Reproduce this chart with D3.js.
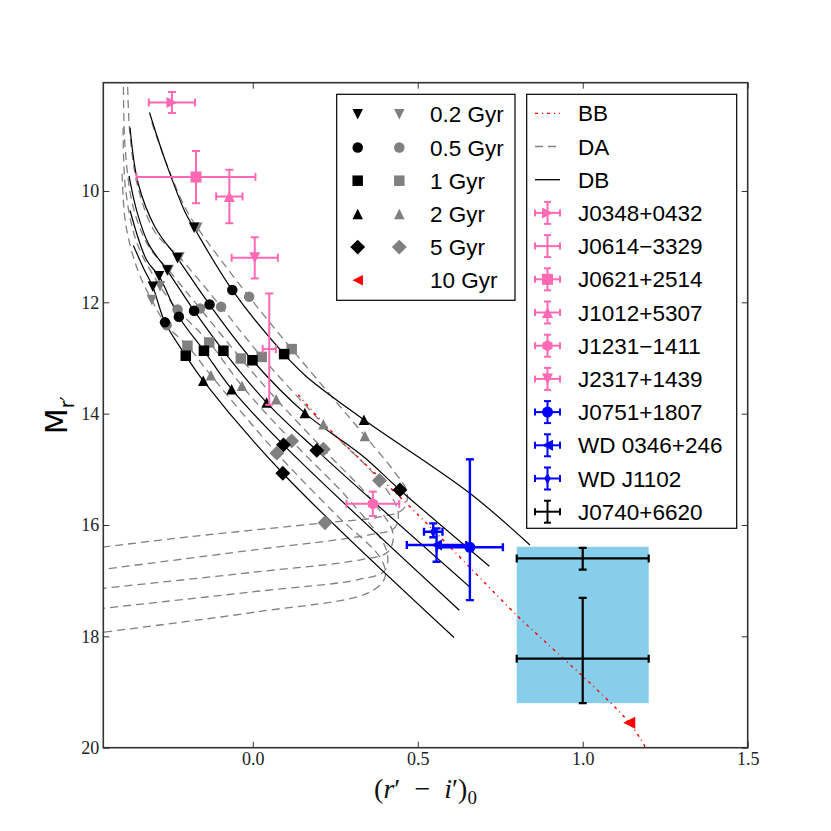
<!DOCTYPE html>
<html>
<head>
<meta charset="utf-8">
<script src="https://cdn.jsdelivr.net/npm/d3@7"></script>
<style>
    body { margin: 0; background: #fff; }
    svg { display: block; }
</style>
</head>
<body>
<script>
// ---- data ----
const ageLabels = ["0.2 Gyr", "0.5 Gyr", "1 Gyr", "2 Gyr", "5 Gyr", "10 Gyr"];
const ageShapes = ["v", "o", "s", "^", "D", "<"];

// DB cooling tracks (solid black), one per mass
const dbTrackA = [[-0.313, 8.59], [-0.265, 9.46], [-0.205, 10.38], [-0.178, 10.66], [-0.062, 11.78], [0.095, 12.93], [0.164, 13.34], [0.337, 14.11], [0.658, 15.43], [0.840, 16.36]];
const dbTrackB = [[-0.372, 8.86], [-0.347, 9.87], [-0.296, 10.65], [-0.228, 11.21], [-0.131, 12.04], [-0.001, 13.04], [0.158, 13.99], [0.335, 14.77], [0.446, 15.37], [0.717, 16.74]];
const dbTrackC = [[-0.375, 9.73], [-0.352, 10.35], [-0.316, 10.95], [-0.259, 11.43], [-0.178, 12.15], [-0.089, 12.87], [0.042, 13.80], [0.194, 14.66], [0.659, 17.12]];
const dbTrackD = [[-0.372, 10.35], [-0.321, 11.25], [-0.284, 11.53], [-0.224, 12.26], [-0.148, 12.87], [-0.064, 13.56], [0.093, 14.56], [0.626, 17.53]];
const dbTrackE = [[-0.362, 10.98], [-0.330, 11.40], [-0.303, 11.72], [-0.266, 12.36], [-0.203, 12.96], [-0.150, 13.41], [0.091, 15.07], [0.610, 18.02]];

// DA cooling tracks (grey dashed), with the hook at the faint end
const daTrackA = [[-0.306, 8.77], [-0.262, 9.50], [-0.205, 10.30], [-0.168, 10.66], [-0.011, 11.90], [0.118, 12.84], [0.340, 14.40], [0.430, 15.05], [0.468, 15.42], [0.455, 15.72], [0.380, 15.86], [0.219, 15.96], [-0.190, 16.21], [-0.460, 16.40]];
const daTrackB = [[-0.380, 7.90], [-0.372, 9.00], [-0.345, 10.00], [-0.295, 10.75], [-0.222, 11.19], [-0.096, 12.08], [0.027, 12.98], [0.214, 14.19], [0.384, 15.20], [0.440, 15.75], [0.430, 16.05], [0.360, 16.17], [0.000, 16.45], [-0.460, 16.80]];
const daTrackC = [[-0.392, 7.90], [-0.387, 9.20], [-0.362, 10.30], [-0.315, 11.00], [-0.255, 11.42], [-0.160, 12.11], [-0.036, 13.01], [0.071, 13.74], [0.214, 14.64], [0.360, 15.55], [0.425, 16.15], [0.410, 16.48], [0.330, 16.62], [0.000, 16.85], [-0.460, 17.14]];
const daTrackD = [[-0.393, 8.86], [-0.385, 10.00], [-0.350, 10.95], [-0.281, 11.71], [-0.228, 12.13], [-0.132, 12.72], [-0.033, 13.50], [0.118, 14.49], [0.300, 15.60], [0.405, 16.45], [0.400, 16.82], [0.320, 16.98], [0.000, 17.20], [-0.460, 17.50]];
const daTrackE = [[-0.396, 9.69], [-0.385, 10.60], [-0.350, 11.40], [-0.306, 11.96], [-0.261, 12.41], [-0.198, 12.78], [-0.127, 13.31], [0.073, 14.71], [0.250, 15.80], [0.390, 16.62], [0.400, 16.95], [0.350, 17.22], [0.012, 17.56], [-0.460, 17.93]];

// isochrone points on the tracks
const dbAge02 = [[-0.178, 10.66], [-0.228, 11.21], [-0.259, 11.43], [-0.284, 11.53], [-0.303, 11.72]];
const dbAge05 = [[-0.062, 11.78], [-0.131, 12.04], [-0.178, 12.15], [-0.224, 12.26], [-0.266, 12.36]];
const dbAge1 = [[0.095, 12.93], [-0.001, 13.04], [-0.089, 12.87], [-0.148, 12.87], [-0.203, 12.96]];
const dbAge2 = [[0.337, 14.11], [0.158, 13.99], [0.042, 13.80], [-0.064, 13.56], [-0.150, 13.41]];
const dbAge5 = [[0.446, 15.37], [0.194, 14.66], [0.093, 14.56], [0.091, 15.07]];

const daAge02 = [[-0.168, 10.66], [-0.222, 11.19], [-0.255, 11.42], [-0.281, 11.71], [-0.306, 11.96]];
const daAge05 = [[-0.011, 11.90], [-0.096, 12.08], [-0.160, 12.11], [-0.228, 12.13], [-0.261, 12.41]];
const daAge1 = [[0.118, 12.84], [0.027, 12.98], [-0.036, 13.01], [-0.132, 12.72], [-0.198, 12.78]];
const daAge2 = [[0.340, 14.40], [0.214, 14.19], [0.071, 13.74], [-0.033, 13.50], [-0.127, 13.31]];
const daAge5 = [[0.219, 15.96], [0.384, 15.20], [0.214, 14.64], [0.118, 14.49], [0.073, 14.71]];

// blackbody track and its 10 Gyr point
const bbX = [0.138, 0.224, 0.500, 0.805, 0.861, 1.141, 1.195];
const bbY = [13.66, 14.23, 15.81, 17.65, 17.96, 19.55, 20.05];
const bb10Gyr = [1.141, 19.55];

// observed objects
const pinkNames = ["J0348+0432", "J0614\u22123329", "J0621+2514", "J1012+5307", "J1231\u22121411", "J2317+1439"];
const pinkShapes = [">", "none", "s", "^", "h", "v"];
const pinkX = [-0.245, 0.050, -0.172, -0.071, 0.364, 0.006];
const pinkY = [8.41, 12.84, 9.75, 10.10, 15.62, 11.20];
const pinkXErr = [0.07, 0.02, 0.18, 0.04, 0.08, 0.07];
const pinkYErrUp = [0.19, 1.0, 0.47, 0.48, 0.22, 0.37];
const pinkYErrDown = [0.19, 1.0, 0.47, 0.48, 0.22, 0.37];

const blueNames = ["J0751+1807", "WD 0346+246", "WD J1102"];
const blueShapes = ["o", "<", "d"];
const blueX = [0.658, 0.557, 0.547];
const blueY = [16.40, 16.36, 16.12];
const blueXErr = [0.10, 0.09, 0.028];
const blueYErrUp = [1.58, 0.30, 0.15];
const blueYErrDown = [0.95, 0.30, 0.10];

const j0740Name = "J0740+6620";
const j0740X = [1.0, 1.0];
const j0740Y = [16.60, 18.40];
const j0740XErr = [0.2, 0.2];
const j0740YErrUp = [0.19, 1.09];
const j0740YErrDown = [0.20, 0.80];
const j0740Box = { x0: 0.8, x1: 1.2, y0: 16.39, y1: 19.2 };

const xTicks = [0.0, 0.5, 1.0, 1.5];
const yTicks = [10, 12, 14, 16, 18, 20];

// ---- colours ----
const PINK = "#ff69b4";
const BLUE = "#0000ff";
const GREY = "#808080";
const SKY = "#87ceeb";

// ---- layout ----
const width = 831, height = 831;
const plot = { left: 103.3, right: 747.7, top: 82.7, bottom: 747.7 };

const x = d3.scaleLinear().domain([-0.453, 1.5]).range([plot.left, plot.right]);
const y = d3.scaleLinear().domain([8.055, 20]).range([plot.top, plot.bottom]);

const svg = d3.select("body").append("svg").attr("width", width).attr("height", height);

svg.append("defs").append("clipPath").attr("id", "clip")
    .append("rect")
    .attr("x", plot.left).attr("y", plot.top)
    .attr("width", plot.right - plot.left).attr("height", plot.bottom - plot.top);

const g = svg.append("g").attr("clip-path", "url(#clip)");

// marker shapes in the style of matplotlib
function markerPath(shape, s) {
    const h = s / 2;
    switch (shape) {
        case "o": return d3.symbol(d3.symbolCircle, Math.PI * h * h)();
        case "^": return `M0,${-h}L${h},${h}L${-h},${h}Z`;
        case "v": return `M0,${h}L${h},${-h}L${-h},${-h}Z`;
        case "<": return `M${-h},0L${h},${-h}L${h},${h}Z`;
        case ">": return `M${h},0L${-h},${-h}L${-h},${h}Z`;
        case "s": return `M${-h},${-h}H${h}V${h}H${-h}Z`;
        case "D": {
            const d = h * Math.SQRT2;
            return `M0,${-d}L${d},0L0,${d}L${-d},0Z`;
        }
        case "d": return `M0,${-h}L${h * 0.6},0L0,${h}L${-h * 0.6},0Z`;
        case "h": {
            const pts = d3.range(6).map(i => {
                const a = Math.PI / 2 + i * Math.PI / 3;
                return [h * 1.05 * Math.cos(a), h * 1.05 * Math.sin(a)];
            });
            return "M" + pts.map(p => p.join(",")).join("L") + "Z";
        }
        default: return "";
    }
}

const line = d3.line().x(d => x(d[0])).y(d => y(d[1])).curve(d3.curveCatmullRom.alpha(0.5));

// J0740+6620 allowed region
g.append("rect")
    .attr("x", x(j0740Box.x0)).attr("y", y(j0740Box.y0))
    .attr("width", x(j0740Box.x1) - x(j0740Box.x0))
    .attr("height", y(j0740Box.y1) - y(j0740Box.y0))
    .attr("fill", SKY);

// DA tracks
g.selectAll(".da")
    .data([daTrackA, daTrackB, daTrackC, daTrackD, daTrackE])
    .enter().append("path")
    .attr("class", "da")
    .attr("d", line)
    .attr("fill", "none")
    .attr("stroke", GREY)
    .attr("stroke-width", 1.3)
    .attr("stroke-dasharray", "8,5");

// DB tracks
g.selectAll(".db")
    .data([dbTrackA, dbTrackB, dbTrackC, dbTrackD, dbTrackE])
    .enter().append("path")
    .attr("class", "db")
    .attr("d", line)
    .attr("fill", "none")
    .attr("stroke", "#000")
    .attr("stroke-width", 1.2);

// blackbody
const bbPoints = bbX.map((v, i) => [v, bbY[i]]);
g.append("path")
    .datum(bbPoints)
    .attr("d", line)
    .attr("fill", "none")
    .attr("stroke", "#ff0000")
    .attr("stroke-width", 1.4)
    .attr("stroke-dasharray", "3,4,1,4");

// isochrone markers: grey (DA) below, black (DB) on top
function drawAgeMarkers(sets, color) {
    sets.forEach((pts, i) => {
        g.selectAll(null)
            .data(pts)
            .enter().append("path")
            .attr("d", markerPath(ageShapes[i], 10.5))
            .attr("transform", d => `translate(${x(d[0])},${y(d[1])})`)
            .attr("fill", color);
    });
}
drawAgeMarkers([daAge02, daAge05, daAge1, daAge2, daAge5], GREY);
drawAgeMarkers([dbAge02, dbAge05, dbAge1, dbAge2, dbAge5], "#000");

g.append("path")
    .attr("d", markerPath("<", 12))
    .attr("transform", `translate(${x(bb10Gyr[0])},${y(bb10Gyr[1])})`)
    .attr("fill", "#ff0000");

// error bars
function drawErrorBars(rows, color, lw, cap, size) {
    rows.forEach(r => {
        const eg = g.append("g");
        const cx = x(r.x), cy = y(r.y);
        const xl = x(r.x - r.xe), xr = x(r.x + r.xe);
        const yt = y(r.y - r.up), yb = y(r.y + r.down);
        eg.append("line").attr("x1", xl).attr("x2", xr).attr("y1", cy).attr("y2", cy);
        eg.append("line").attr("x1", cx).attr("x2", cx).attr("y1", yt).attr("y2", yb);
        eg.append("line").attr("x1", xl).attr("x2", xl).attr("y1", cy - cap).attr("y2", cy + cap);
        eg.append("line").attr("x1", xr).attr("x2", xr).attr("y1", cy - cap).attr("y2", cy + cap);
        eg.append("line").attr("x1", cx - cap).attr("x2", cx + cap).attr("y1", yt).attr("y2", yt);
        eg.append("line").attr("x1", cx - cap).attr("x2", cx + cap).attr("y1", yb).attr("y2", yb);
        eg.selectAll("line").attr("stroke", color).attr("stroke-width", lw);
        if (r.shape !== "none") {
            eg.append("path")
                .attr("d", markerPath(r.shape, size))
                .attr("transform", `translate(${cx},${cy})`)
                .attr("fill", color);
        }
    });
}

drawErrorBars(j0740X.map((v, i) => ({
    x: v, y: j0740Y[i], xe: j0740XErr[i], up: j0740YErrUp[i], down: j0740YErrDown[i], shape: "none"
})), "#000", 2.2, 4, 0);

drawErrorBars(pinkX.map((v, i) => ({
    x: v, y: pinkY[i], xe: pinkXErr[i], up: pinkYErrUp[i], down: pinkYErrDown[i], shape: pinkShapes[i]
})), PINK, 2, 4, 11);

drawErrorBars(blueX.map((v, i) => ({
    x: v, y: blueY[i], xe: blueXErr[i], up: blueYErrUp[i], down: blueYErrDown[i], shape: blueShapes[i]
})), BLUE, 2.4, 4, 11);

// ---- axes ----
const tickFont = "'Liberation Serif', 'DejaVu Serif', serif";

function styleAxis(sel) {
    sel.select(".domain").remove();
    sel.selectAll(".tick line").attr("stroke", "#333").attr("stroke-width", 1);
    sel.selectAll(".tick text").attr("font-family", tickFont).attr("font-size", 18).attr("fill", "#222");
}

svg.append("g").attr("transform", `translate(0,${plot.bottom})`)
    .call(d3.axisBottom(x).tickValues(xTicks).tickFormat(d3.format(".1f")).tickSize(-6).tickPadding(5))
    .call(styleAxis);
svg.append("g").attr("transform", `translate(0,${plot.top})`)
    .call(d3.axisTop(x).tickValues(xTicks).tickFormat("").tickSize(-6))
    .call(styleAxis);
svg.append("g").attr("transform", `translate(${plot.left},0)`)
    .call(d3.axisLeft(y).tickValues(yTicks).tickFormat(d3.format("d")).tickSize(-6).tickPadding(4))
    .call(styleAxis);
svg.append("g").attr("transform", `translate(${plot.right},0)`)
    .call(d3.axisRight(y).tickValues(yTicks).tickFormat("").tickSize(-6))
    .call(styleAxis);

svg.append("rect")
    .attr("x", plot.left).attr("y", plot.top)
    .attr("width", plot.right - plot.left).attr("height", plot.bottom - plot.top)
    .attr("fill", "none").attr("stroke", "#333").attr("stroke-width", 1.6);

// x label: (r' - i')_0
const xl = svg.append("text")
    .attr("x", (plot.left + plot.right) / 2)
    .attr("y", 798)
    .attr("text-anchor", "middle")
    .attr("font-family", tickFont)
    .attr("font-size", 28)
    .attr("fill", "#111");
xl.append("tspan").text("(");
xl.append("tspan").attr("font-style", "italic").text("r");
xl.append("tspan").text("\u2032\u2002\u2212\u2002");
xl.append("tspan").attr("font-style", "italic").text("i");
xl.append("tspan").text("\u2032)");
xl.append("tspan").attr("font-size", 19).attr("dy", 6).text("0");

// y label: M_r'
const yl = svg.append("text")
    .attr("transform", `translate(67,${(plot.top + plot.bottom) / 2}) rotate(-90)`)
    .attr("text-anchor", "middle")
    .attr("font-family", "'DejaVu Sans', sans-serif")
    .attr("font-size", 30)
    .attr("fill", "#000");
yl.append("tspan").text("M");
yl.append("tspan").attr("font-size", 19).attr("dy", 7).text("r\u2032");

// ---- legends ----
const legendFont = "'Liberation Sans', Arial, sans-serif";
const legendSize = 22.5;
const rowH = 33.2;

// ages legend
const leg1 = svg.append("g");
leg1.append("rect")
    .attr("x", 336.7).attr("y", 94.3).attr("width", 178.3).attr("height", 206)
    .attr("fill", "#fff").attr("stroke", "#000").attr("stroke-width", 1.2);
ageLabels.forEach((lab, i) => {
    const ry = 114.3 + i * rowH;
    leg1.append("path")
        .attr("d", markerPath(ageShapes[i], 10.5))
        .attr("transform", `translate(357.7,${ry})`)
        .attr("fill", i === 5 ? "#ff0000" : "#000");
    if (i < 5) {
        leg1.append("path")
            .attr("d", markerPath(ageShapes[i], 10.5))
            .attr("transform", `translate(399.3,${ry})`)
            .attr("fill", GREY);
    }
    leg1.append("text")
        .attr("x", 430).attr("y", ry).attr("dy", "0.36em")
        .attr("font-family", legendFont).attr("font-size", legendSize)
        .text(lab);
});

// tracks and objects legend
const leg2 = svg.append("g");
leg2.append("rect")
    .attr("x", 526.7).attr("y", 94.3).attr("width", 210).attr("height", 434)
    .attr("fill", "#fff").attr("stroke", "#000").attr("stroke-width", 1.2);

const trackEntries = [
    { label: "BB", color: "#ff0000", dash: "3,4,1,4" },
    { label: "DA", color: GREY, dash: "8,5" },
    { label: "DB", color: "#000", dash: null }
];
const objectEntries = pinkNames.map((n, i) => ({ label: n, color: PINK, shape: pinkShapes[i] }))
    .concat(blueNames.map((n, i) => ({ label: n, color: BLUE, shape: blueShapes[i] })))
    .concat([{ label: j0740Name, color: "#000", shape: "none" }]);

const hx0 = 535, hx1 = 560, hxc = 547.5, tx = 578;
trackEntries.forEach((e, i) => {
    const ry = 113.3 + i * rowH;
    leg2.append("line")
        .attr("x1", hx0).attr("x2", hx1).attr("y1", ry).attr("y2", ry)
        .attr("stroke", e.color).attr("stroke-width", 1.3)
        .attr("stroke-dasharray", e.dash);
    leg2.append("text")
        .attr("x", tx).attr("y", ry).attr("dy", "0.36em")
        .attr("font-family", legendFont).attr("font-size", legendSize)
        .text(e.label);
});
objectEntries.forEach((e, j) => {
    const ry = 113.3 + (j + 3) * rowH;
    const hg = leg2.append("g");
    hg.append("line").attr("x1", hx0).attr("x2", hx1).attr("y1", ry).attr("y2", ry);
    hg.append("line").attr("x1", hxc).attr("x2", hxc).attr("y1", ry - 11).attr("y2", ry + 11);
    hg.append("line").attr("x1", hx0).attr("x2", hx0).attr("y1", ry - 3.5).attr("y2", ry + 3.5);
    hg.append("line").attr("x1", hx1).attr("x2", hx1).attr("y1", ry - 3.5).attr("y2", ry + 3.5);
    hg.append("line").attr("x1", hxc - 3.5).attr("x2", hxc + 3.5).attr("y1", ry - 11).attr("y2", ry - 11);
    hg.append("line").attr("x1", hxc - 3.5).attr("x2", hxc + 3.5).attr("y1", ry + 11).attr("y2", ry + 11);
    hg.selectAll("line").attr("stroke", e.color).attr("stroke-width", 2);
    if (e.shape !== "none") {
        hg.append("path")
            .attr("d", markerPath(e.shape, 11))
            .attr("transform", `translate(${hxc},${ry})`)
            .attr("fill", e.color);
    }
    leg2.append("text")
        .attr("x", tx).attr("y", ry).attr("dy", "0.36em")
        .attr("font-family", legendFont).attr("font-size", legendSize)
        .text(e.label);
});
</script>
</body>
</html>
